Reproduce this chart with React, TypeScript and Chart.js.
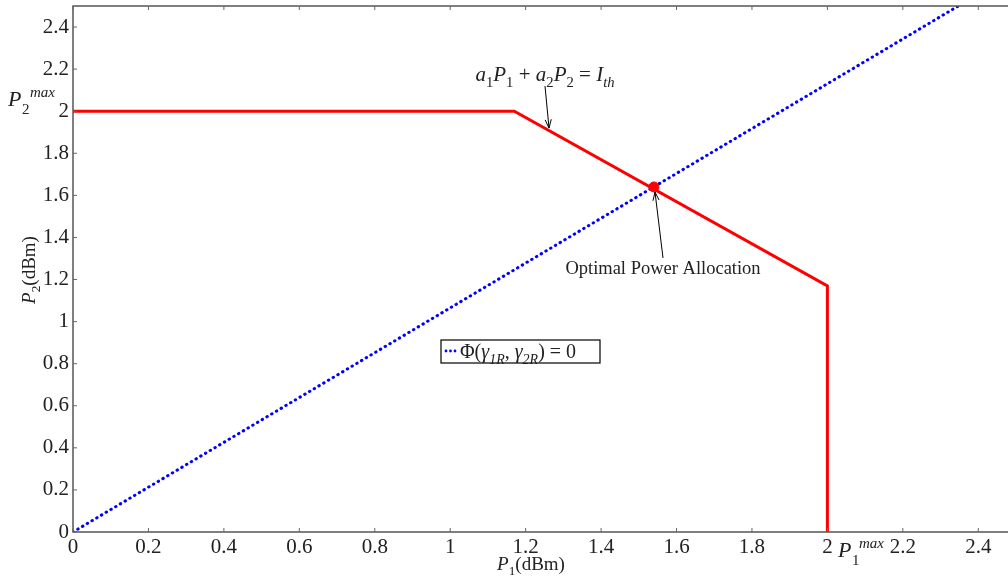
import React, { useEffect, useRef } from "react";
import { Chart, registerables } from "chart.js";
Chart.register(...registerables);

// ---- data ----
const constraintX = [0, 1.17, 2, 2];
const constraintY = [2, 2, 1.17, 0];
const phiX = [0, 2.5];
const phiY = [0, 2.663];
const optimalX = [1.54];
const optimalY = [1.64];
const tickValues = [0, 0.2, 0.4, 0.6, 0.8, 1, 1.2, 1.4, 1.6, 1.8, 2, 2.2, 2.4];
const tickLabels = ["0", "0.2", "0.4", "0.6", "0.8", "1", "1.2", "1.4", "1.6", "1.8", "2", "2.2", "2.4"];
const axisMin = 0;
const axisMax = 2.5;

type Piece = { t: string; it?: boolean; pos?: "sub" | "sup" };
const FONT = '"Liberation Serif", "DejaVu Serif", serif';

function drawRich(ctx: CanvasRenderingContext2D, pieces: Piece[], x: number, y: number, size: number, align: "left" | "center") {
  const fontFor = (p: Piece) => `${p.it ? "italic " : ""}${p.pos ? size * 0.7 : size}px ${FONT}`;
  let w = 0;
  for (const p of pieces) {
    ctx.font = fontFor(p);
    w += ctx.measureText(p.t).width;
  }
  let cx = align === "center" ? x - w / 2 : x;
  ctx.textAlign = "left";
  ctx.textBaseline = "alphabetic";
  for (const p of pieces) {
    ctx.font = fontFor(p);
    const dy = p.pos === "sub" ? size * 0.28 : p.pos === "sup" ? -size * 0.42 : 0;
    ctx.fillText(p.t, cx, y + dy);
    cx += ctx.measureText(p.t).width;
  }
}

function drawArrow(ctx: CanvasRenderingContext2D, x1: number, y1: number, x2: number, y2: number) {
  ctx.save();
  ctx.strokeStyle = "#000";
  ctx.lineWidth = 1;
  ctx.beginPath();
  ctx.moveTo(x1, y1);
  ctx.lineTo(x2, y2);
  const a = Math.atan2(y2 - y1, x2 - x1);
  const L = 9;
  const s = 0.35;
  ctx.moveTo(x2 - L * Math.cos(a - s), y2 - L * Math.sin(a - s));
  ctx.lineTo(x2, y2);
  ctx.lineTo(x2 - L * Math.cos(a + s), y2 - L * Math.sin(a + s));
  ctx.stroke();
  ctx.restore();
}

const overlay = {
  id: "overlay",
  afterDraw(chart: any) {
    const ctx: CanvasRenderingContext2D = chart.ctx;
    const { left, right, top, bottom } = chart.chartArea;
    const xs = chart.scales.x;
    const ys = chart.scales.y;
    ctx.save();
    // box
    ctx.strokeStyle = "#555";
    ctx.lineWidth = 1.5;
    ctx.strokeRect(left, top, right - left, bottom - top);
    // inward ticks
    ctx.lineWidth = 1;
    ctx.strokeStyle = "#666";
    for (const v of tickValues) {
      const px = xs.getPixelForValue(v);
      const py = ys.getPixelForValue(v);
      ctx.beginPath();
      ctx.moveTo(px, bottom); ctx.lineTo(px, bottom - 4);
      ctx.moveTo(px, top); ctx.lineTo(px, top + 4);
      ctx.moveTo(left, py); ctx.lineTo(left + 4, py);
      ctx.moveTo(right, py); ctx.lineTo(right - 4, py);
      ctx.stroke();
    }
    ctx.fillStyle = "#222";
    // axis titles
    drawRich(ctx, [{ t: "P", it: true }, { t: "1", pos: "sub" }, { t: "(dBm)" }], 531, 570, 19, "center");
    ctx.save();
    ctx.translate(29, 270);
    ctx.rotate(-Math.PI / 2);
    drawRich(ctx, [{ t: "P", it: true }, { t: "2", pos: "sub" }, { t: "(dBm)" }], 0, 6, 19, "center");
    ctx.restore();
    // P2max / P1max
    drawRich(ctx, [{ t: "P", it: true }], 8, 106, 22, "left");
    ctx.font = `italic 15px ${FONT}`;
    ctx.fillText("max", 30, 97);
    ctx.font = `15px ${FONT}`;
    ctx.fillText("2", 22, 114);
    drawRich(ctx, [{ t: "P", it: true }], 838, 557, 22, "left");
    ctx.font = `italic 15px ${FONT}`;
    ctx.fillText("max", 859, 548);
    ctx.font = `15px ${FONT}`;
    ctx.fillText("1", 852, 565);
    // constraint annotation
    drawRich(ctx, [
      { t: "a", it: true }, { t: "1", pos: "sub" }, { t: "P", it: true }, { t: "1", pos: "sub" }, { t: " + " },
      { t: "a", it: true }, { t: "2", pos: "sub" }, { t: "P", it: true }, { t: "2", pos: "sub" }, { t: " = " },
      { t: "I", it: true }, { t: "th", it: true, pos: "sub" },
    ], 545, 81, 21, "center");
    drawArrow(ctx, 545, 86, 549, 128);
    // optimal annotation
    ctx.font = `18.5px ${FONT}`;
    ctx.textAlign = "center";
    ctx.textBaseline = "alphabetic";
    ctx.fillText("Optimal Power Allocation", 663, 274);
    drawArrow(ctx, 663, 258, 655, 192);
    // legend
    ctx.strokeStyle = "#000";
    ctx.lineWidth = 1.2;
    ctx.fillStyle = "#fff";
    ctx.fillRect(441, 340, 159, 23);
    ctx.strokeRect(441, 340, 159, 23);
    ctx.fillStyle = "#0000ff";
    for (const dx of [446, 450.5, 455]) {
      ctx.beginPath();
      ctx.arc(dx, 351, 1.4, 0, Math.PI * 2);
      ctx.fill();
    }
    ctx.fillStyle = "#222";
    drawRich(ctx, [
      { t: "Φ(" }, { t: "γ", it: true }, { t: "1R", it: true, pos: "sub" }, { t: ", " },
      { t: "γ", it: true }, { t: "2R", it: true, pos: "sub" }, { t: ") = 0" },
    ], 460, 358, 20, "left");
    ctx.restore();
  },
};

const setTicks = (s: any) => {
  s.ticks = tickValues.map((v) => ({ value: v }));
};
const labelFor = (v: any) => {
  const i = tickValues.findIndex((t) => Math.abs(t - Number(v)) < 1e-6);
  return i >= 0 ? tickLabels[i] : "";
};

export default function App() {
  const ref = useRef<HTMLCanvasElement | null>(null);
  useEffect(() => {
    if (!ref.current) return;
    const chart = new Chart(ref.current, {
      type: "scatter",
      data: {
        datasets: [
          {
            label: "constraint",
            data: constraintX.map((x, i) => ({ x, y: constraintY[i] })),
            showLine: true,
            borderColor: "#ff0000",
            borderWidth: 3,
            pointRadius: 0,
            order: 2,
          },
          {
            label: "phi",
            data: phiX.map((x, i) => ({ x, y: phiY[i] })),
            showLine: true,
            borderColor: "#0000ff",
            borderWidth: 3,
            borderDash: [0.5, 5],
            borderCapStyle: "round",
            pointRadius: 0,
            order: 1,
          },
          {
            label: "optimal",
            data: optimalX.map((x, i) => ({ x, y: optimalY[i] })),
            backgroundColor: "#ff0000",
            borderColor: "#ff0000",
            pointRadius: 5,
            order: 0,
          },
        ],
      },
      options: {
        animation: false,
        responsive: false,
        devicePixelRatio: 1,
        layout: { padding: { left: 0, right: 0, top: 5, bottom: 0 } },
        plugins: { legend: { display: false }, tooltip: { enabled: false } },
        scales: {
          x: {
            type: "linear",
            min: axisMin,
            max: axisMax,
            grid: { display: false, drawTicks: false },
            border: { display: false },
            afterBuildTicks: setTicks,
            ticks: {
              padding: 3,
              color: "#222",
              font: { family: FONT, size: 21 },
              callback: labelFor,
              maxRotation: 0,
              autoSkip: false,
            },
            afterFit: (s: any) => { s.height = 47; s.paddingLeft = 0; s.paddingRight = 0; },
          },
          y: {
            type: "linear",
            min: axisMin,
            max: axisMax,
            grid: { display: false, drawTicks: false },
            border: { display: false },
            afterBuildTicks: setTicks,
            ticks: {
              padding: 4,
              color: "#222",
              font: { family: FONT, size: 21 },
              callback: labelFor,
              autoSkip: false,
            },
            afterFit: (s: any) => { s.width = 73; s.paddingTop = 0; s.paddingBottom = 0; },
          },
        },
      } as any,
      plugins: [overlay],
    });
    return () => chart.destroy();
  }, []);
  return (
    <div style={{ position: "fixed", left: 0, top: 0, width: 1022, height: 579, background: "#fff" }}>
      <canvas ref={ref} width={1022} height={579} />
    </div>
  );
}
